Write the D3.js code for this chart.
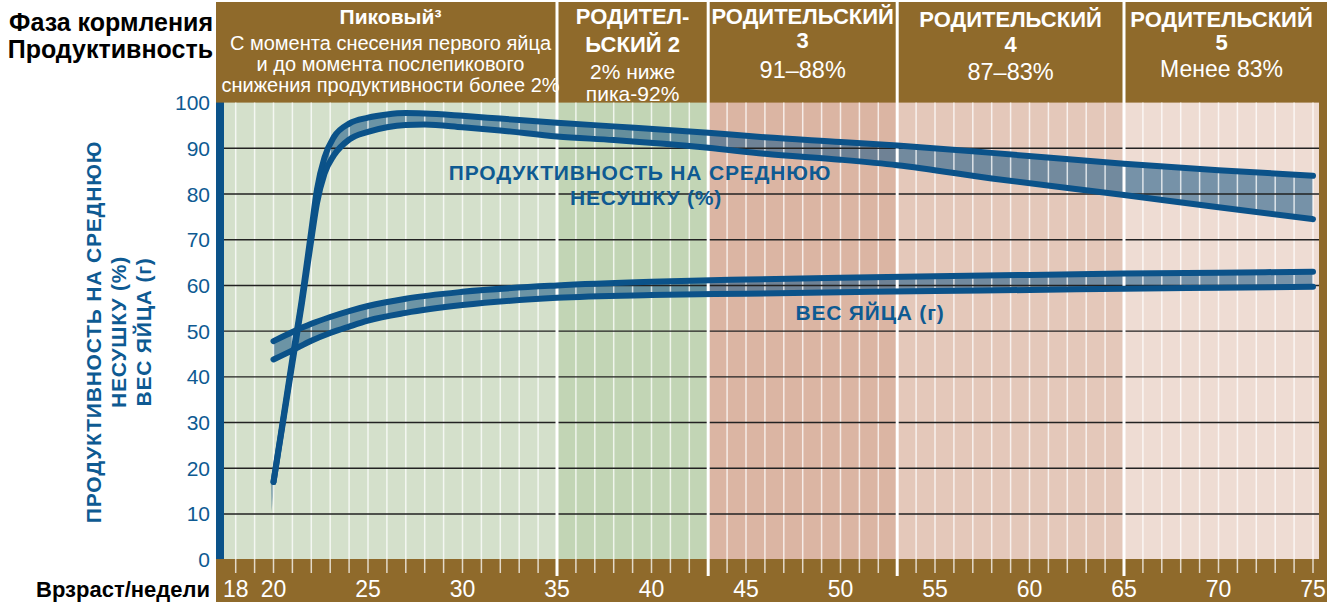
<!DOCTYPE html>
<html>
<head>
<meta charset="utf-8">
<script src="https://cdn.jsdelivr.net/npm/d3@7/dist/d3.min.js"></script>
<style>
  html, body { margin: 0; padding: 0; background: #fff; }
  svg { display: block; }
  .narrow { font-family: "Liberation Sans Narrow", "Arial Narrow", "Liberation Sans", sans-serif; }
  .wide { font-family: "Liberation Sans", Arial, sans-serif; }
</style>
</head>
<body>
<div id="chart"></div>
<script>
// weeks on the x axis
const tickWeeks = [18, 20, 25, 30, 35, 40, 45, 50, 55, 60, 65, 70, 75]
const yTicks = [0, 10, 20, 30, 40, 50, 60, 70, 80, 90, 100]
const phaseBreaks = [35, 43, 53, 65]

// production per hen (%) - upper and lower curve of the band
const prodWeeks = [20, 20.5, 21, 21.5, 22, 22.3, 22.7, 23.2, 24, 25, 26, 27, 28, 30, 32, 35, 38, 43, 46, 50, 53, 58, 65, 70, 75]
const prodUpper = [17, 30.5, 44, 57, 72, 81, 88, 92.5, 95.4, 96.7, 97.4, 97.7, 97.6, 97.1, 96.5, 95.6, 94.8, 93.4, 92.4, 91.4, 90.6, 89, 86.6, 85.2, 84]
const prodLower = [17, 30, 43, 56, 70, 78, 84.5, 88.5, 91.9, 93.6, 94.6, 95.1, 95.2, 94.6, 93.9, 92.6, 91.8, 90.1, 88.8, 87.5, 86.3, 83.4, 79.8, 77.1, 74.5]
// the faded tip under the start of the production curve
const tipWeeks = [19.86, 20.04, 19.9]
const tipVals = [17, 17, 10.5]

// egg weight (g)
const eggWeeks = [20, 21, 22, 23, 24, 25, 27, 30, 35, 40, 45, 50, 55, 60, 65, 70, 75]
const eggUpper = [47.8, 49.8, 51.6, 53.1, 54.4, 55.5, 57.1, 58.6, 60, 60.8, 61.3, 61.7, 62, 62.3, 62.6, 62.8, 63]
const eggLower = [43.8, 45.8, 47.9, 49.6, 51, 52.3, 54, 55.7, 57.3, 57.9, 58.2, 58.5, 58.8, 59, 59.3, 59.5, 59.7]

// header texts per phase: [title lines (bold)], [description lines]
const phaseTitles = [["Пиковый³"], ["РОДИТЕЛ-", "ЬСКИЙ 2"], ["РОДИТЕЛЬСКИЙ", "3"], ["РОДИТЕЛЬСКИЙ", "4"], ["РОДИТЕЛЬСКИЙ", "5"]]
const phaseNotes = [["С момента снесения первого яйца", "и до момента послепикового", "снижения продуктивности более 2%"], ["2% ниже", "пика-92%"], ["91–88%"], ["87–83%"], ["Менее 83%"]]
const phaseColors = ["#d4e0cb", "#c2d5b5", "#dbb5a3", "#e4c8ba", "#eedcd3"]

const W = 1335, H = 602
const brown = "#8f6a2b", blue = "#0b5289", txtBlue = "#0e5a92"

const x = d3.scaleLinear().domain([20, 75]).range([273.5, 1313])
const y = d3.scaleLinear().domain([0, 100]).range([559.7, 102.6])

const plotL = 224, plotR = 1319, plotT = y(100), plotB = 559
const frameL = 216, frameR = 1327

const svg = d3.select("#chart").append("svg").attr("width", W).attr("height", H)

// brown frame: header, bottom band, right side
svg.append("rect").attr("x", frameL).attr("y", 2).attr("width", frameR - frameL).attr("height", H - 2).attr("fill", brown)

// phase backgrounds
const edges = [x.invert(plotL)].concat(phaseBreaks).concat([x.invert(plotR)])
svg.append("g").selectAll("rect").data(phaseColors).join("rect")
  .attr("x", (d, i) => x(edges[i]))
  .attr("y", plotT)
  .attr("width", (d, i) => x(edges[i + 1]) - x(edges[i]))
  .attr("height", plotB - plotT)
  .attr("fill", d => d)

// left blue bar
svg.append("rect").attr("x", frameL).attr("y", plotT).attr("width", plotL - frameL).attr("height", plotB - plotT).attr("fill", blue)

// bands
const bandFill = "rgba(38,96,140,0.6)"
const area = (ws, lo, hi) => d3.area()
  .x((d, i) => x(ws[i])).y0((d, i) => y(lo[i])).y1((d, i) => y(hi[i]))
  .curve(d3.curveMonotoneX)(ws)
svg.append("path").attr("d", area(prodWeeks, prodLower, prodUpper)).attr("fill", bandFill)
svg.append("path").attr("d", area(eggWeeks, eggLower, eggUpper)).attr("fill", bandFill)
svg.append("path")
  .attr("d", d3.line().x((d, i) => x(tipWeeks[i])).y((d, i) => y(tipVals[i])).curve(d3.curveLinearClosed)(tipWeeks))
  .attr("fill", "rgba(38,96,140,0.45)")

// week lines (white) in plot and as ticks below
const weeks = d3.range(18, 76)
svg.append("g").selectAll("line").data(weeks).join("line")
  .attr("x1", d => x(d)).attr("x2", d => x(d))
  .attr("y1", plotT).attr("y2", plotB + 14)
  .attr("stroke", "#fff").attr("stroke-opacity", 0.75).attr("stroke-width", 1.5)

// horizontal gridlines
svg.append("g").selectAll("line").data(yTicks.filter(d => d > 0 && d < 100)).join("line")
  .attr("x1", plotL).attr("x2", plotR)
  .attr("y1", d => y(d)).attr("y2", d => y(d))
  .attr("stroke", "#222").attr("stroke-width", 1.4)

// phase boundaries through header and bottom band
svg.append("g").selectAll("line").data(phaseBreaks).join("line")
  .attr("x1", d => x(d)).attr("x2", d => x(d))
  .attr("y1", 2).attr("y2", plotB + 17)
  .attr("stroke", "#fff").attr("stroke-width", 3)

// curves
const line = (ws, vs) => d3.line().x((d, i) => x(ws[i])).y((d, i) => y(vs[i])).curve(d3.curveMonotoneX)(ws)
;[[prodWeeks, prodUpper], [prodWeeks, prodLower], [eggWeeks, eggUpper], [eggWeeks, eggLower]].forEach(p => {
  svg.append("path").attr("d", line(p[0], p[1]))
    .attr("fill", "none").attr("stroke", blue).attr("stroke-width", 6)
    .attr("stroke-linecap", "round").attr("stroke-linejoin", "round")
})

// y tick labels
svg.append("g").selectAll("text").data(yTicks).join("text")
  .attr("class", "narrow")
  .attr("x", 210).attr("y", d => y(d) + 7.5)
  .attr("text-anchor", "end")
  .attr("font-size", 21).attr("fill", txtBlue)
  .text(d => d)

// x tick labels
svg.append("g").selectAll("text").data(tickWeeks).join("text")
  .attr("class", "narrow")
  .attr("x", d => x(d)).attr("y", 597)
  .attr("text-anchor", "middle")
  .attr("font-size", 23).attr("fill", "#fff")
  .text(d => d)

svg.append("text").attr("class", "narrow")
  .attr("x", 210).attr("y", 597).attr("text-anchor", "end")
  .attr("font-size", 22).attr("font-weight", "bold").attr("fill", "#000")
  .text("Врзраст/недели")

// top-left labels
svg.append("text").attr("class", "wide").attr("x", 213).attr("y", 31).attr("text-anchor", "end")
  .attr("font-size", 25).attr("font-weight", "bold").text("Фаза кормления")
svg.append("text").attr("class", "wide").attr("x", 213).attr("y", 58).attr("text-anchor", "end")
  .attr("font-size", 25).attr("font-weight", "bold").text("Продуктивность")

// y axis title (rotated)
const yTitle = ["ПРОДУКТИВНОСТЬ НА СРЕДНЮЮ", "НЕСУШКУ (%)", "ВЕС ЯЙЦА (г)"]
svg.append("g").selectAll("text").data(yTitle).join("text")
  .attr("class", "wide")
  .attr("transform", (d, i) => "translate(" + (101 + i * 25) + ",332) rotate(-90)")
  .attr("text-anchor", "middle")
  .attr("font-size", 21).attr("font-weight", "bold").attr("fill", txtBlue)
  .attr("letter-spacing", 0.8)
  .text(d => d)

// header texts
const colEdges = [x.invert(plotL)].concat(phaseBreaks).concat([x.invert(plotR)])
const titleY = [[24], [24, 52], [24, 48], [27, 52], [27, 50]]
const noteY = [[50, 71, 92], [79, 101], [78], [80], [77]]
const titleSize = [21, 22, 22, 22, 22]
const noteSize = [20, 21, 23.5, 23.5, 23]
phaseTitles.forEach((lines, i) => {
  const cx = (x(colEdges[i]) + x(colEdges[i + 1])) / 2
  lines.forEach((t, j) => {
    svg.append("text").attr("class", "narrow")
      .attr("x", cx).attr("y", titleY[i][j]).attr("text-anchor", "middle")
      .attr("font-size", titleSize[i]).attr("font-weight", "bold").attr("fill", "#fff")
      .text(t)
  })
  phaseNotes[i].forEach((t, j) => {
    svg.append("text").attr("class", "narrow")
      .attr("x", cx).attr("y", noteY[i][j]).attr("text-anchor", "middle")
      .attr("font-size", noteSize[i]).attr("fill", "#fff")
      .text(t)
  })
})

// in-chart labels
const inLabel = (t, cx, by) => svg.append("text").attr("class", "wide")
  .attr("x", cx).attr("y", by).attr("text-anchor", "middle")
  .attr("font-size", 21).attr("font-weight", "bold").attr("fill", txtBlue)
  .attr("letter-spacing", 0.8).text(t)
inLabel("ПРОДУКТИВНОСТЬ НА СРЕДНЮЮ", 640, 180)
inLabel("НЕСУШКУ (%)", 646, 205)
inLabel("ВЕС ЯЙЦА (г)", 870, 320)
</script>
</body>
</html>
